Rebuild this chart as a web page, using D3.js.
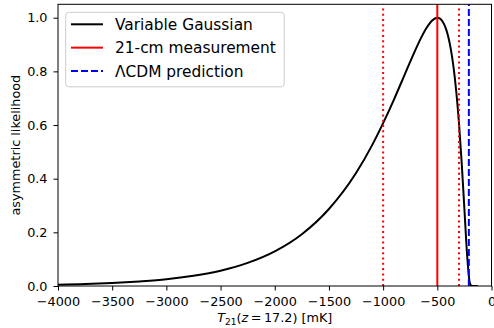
<!DOCTYPE html>
<meta charset="utf-8">
<script src="https://cdn.jsdelivr.net/npm/d3@7"></script>
<style>
  body { margin: 0; background: #fff; }
  svg { font-family: "DejaVu Sans", sans-serif; }
</style>
<div id="chart"></div>
<script>

// likelihood curve
var tValues = [-4000, -3750, -3500, -3250, -3000, -2750, -2500, -2250, -2000, -1750,
               -1500, -1250, -1100, -1000, -900, -800, -750, -700, -650, -600, -550,
               -500, -475, -450, -425, -400, -375, -350, -325, -300, -275, -250,
               -225, -200, -185, -170, -125];
var likelihood = [0.005, 0.007, 0.011, 0.017, 0.025, 0.038, 0.057, 0.086, 0.129, 0.193,
                  0.287, 0.421, 0.526, 0.607, 0.695, 0.789, 0.836, 0.882, 0.925, 0.962, 0.989,
                  1.0, 0.997, 0.985, 0.964, 0.931, 0.882, 0.815, 0.724, 0.607, 0.459, 0.287,
                  0.115, 0.011, 0.001, 0.0, 0.0];

// vertical markers
var measured = -500;
var measuredBounds = [-1000, -300];
var lcdm = -209;

var xTicks = [-4000, -3500, -3000, -2500, -2000, -1500, -1000, -500, 0];
var yTicks = [0, 0.2, 0.4, 0.6, 0.8, 1.0];
var legendLabels = ["Variable Gaussian", "21-cm measurement", "\u039BCDM prediction"];

var W = 494, H = 328;
var margin = {top: 4.3, right: 2.5, bottom: 42, left: 58};

var svg = d3.select("#chart").append("svg")
    .attr("width", W)
    .attr("height", H);

var x = d3.scaleLinear().domain([-4000, 0]).range([margin.left, W - margin.right]);
var y = d3.scaleLinear().domain([0, 1.05]).range([H - margin.bottom, margin.top]);

svg.append("defs").append("clipPath").attr("id", "clip")
  .append("rect")
    .attr("x", margin.left).attr("y", margin.top)
    .attr("width", x(0) - margin.left).attr("height", y(0) - margin.top);

var plot = svg.append("g").attr("clip-path", "url(#clip)");

// the curve
var pts = tValues.map(function(t, i) { return [t, likelihood[i]]; });
plot.append("path")
    .datum(pts)
    .attr("fill", "none")
    .attr("stroke", "#000")
    .attr("stroke-width", 2)
    .attr("stroke-linejoin", "round")
    .attr("d", d3.line()
      .x(function(d) { return x(d[0]); })
      .y(function(d) { return y(d[1]); })
      .curve(d3.curveMonotoneX));

// vertical lines
function vline(v, color, dash, w) {
  plot.append("line")
    .attr("x1", x(v)).attr("x2", x(v))
    .attr("y1", y(0)).attr("y2", margin.top)
    .attr("stroke", color)
    .attr("stroke-width", w)
    .attr("stroke-dasharray", dash);
}
vline(measured, "#ff0000", null, 2);
measuredBounds.forEach(function(b) { vline(b, "#ff0000", "2,3.3", 2); });
vline(lcdm, "#0000ff", "7,3", 2);

// axes
var xAxis = svg.append("g")
    .attr("transform", "translate(0," + y(0) + ")")
    .call(d3.axisBottom(x).tickValues(xTicks).tickFormat(d3.format("d"))
      .tickSizeInner(4.5).tickSizeOuter(0).tickPadding(6));
var yAxis = svg.append("g")
    .attr("transform", "translate(" + margin.left + ",0)")
    .call(d3.axisLeft(y).tickValues(yTicks).tickFormat(d3.format(".1f"))
      .tickSizeInner(4.5).tickSizeOuter(0).tickPadding(6));
[xAxis, yAxis].forEach(function(a) {
  a.select(".domain").remove();
  a.selectAll("text").attr("font-size", 12.8).attr("fill", "#000")
    .attr("font-family", "DejaVu Sans, sans-serif");
  a.selectAll("line").attr("stroke", "#000").attr("stroke-width", 1);
});

// frame
svg.append("rect")
    .attr("x", margin.left).attr("y", margin.top)
    .attr("width", x(0) - margin.left).attr("height", y(0) - margin.top)
    .attr("fill", "none").attr("stroke", "#000").attr("stroke-width", 1);

// axis labels
var xl = svg.append("text")
    .attr("x", (x(-4000) + x(0)) / 2)
    .attr("y", 322)
    .attr("text-anchor", "middle")
    .attr("font-size", 12.8);
xl.append("tspan").attr("font-style", "italic").text("T");
xl.append("tspan").attr("font-size", 9).attr("dy", 2.5).text("21");
xl.append("tspan").attr("dy", -2.5).text("(");
xl.append("tspan").attr("font-style", "italic").text("z");
xl.append("tspan").text("\u2009=\u200917.2) [mK]");

svg.append("text")
    .attr("transform", "translate(19.5," + ((y(0) + margin.top) / 2) + ") rotate(-90)")
    .attr("text-anchor", "middle")
    .attr("font-size", 12.8)
    .text("asymmetric likelihood");

// legend
var legend = svg.append("g");
legend.append("rect")
    .attr("x", 65.7).attr("y", 12.3)
    .attr("width", 218.5).attr("height", 74.5)
    .attr("rx", 3)
    .attr("fill", "#fff").attr("fill-opacity", 0.8)
    .attr("stroke", "#cccccc").attr("stroke-width", 1);
var legendStyle = [
  {color: "#000", dash: null},
  {color: "#ff0000", dash: null},
  {color: "#0000ff", dash: "7,3"}
];
legendLabels.forEach(function(lbl, i) {
  var cy = 24.3 + i * 23.35;
  legend.append("line")
    .attr("x1", 71).attr("x2", 103)
    .attr("y1", cy).attr("y2", cy)
    .attr("stroke", legendStyle[i].color)
    .attr("stroke-width", 2)
    .attr("stroke-dasharray", legendStyle[i].dash);
  legend.append("text")
    .attr("x", 115).attr("y", cy + 5.6)
    .attr("font-size", 15.4)
    .text(lbl);
});

</script>
